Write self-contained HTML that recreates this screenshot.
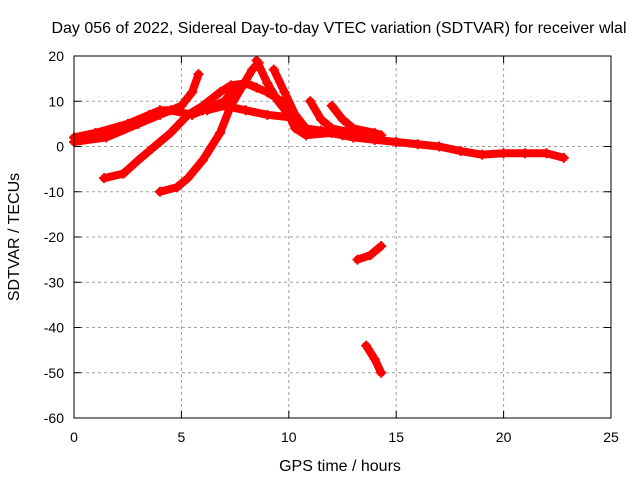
<!DOCTYPE html>
<html><head><meta charset="utf-8"><style>
body{margin:0;background:#fff}
svg{display:block;font-family:"Liberation Sans",sans-serif;font-size:14px}
.big{font-size:16px}
</style></head><body>
<svg id="chart" width="640" height="480">
<rect width="640" height="480" fill="#fff"/>
<text class="big" x="339" y="33" text-anchor="middle">Day 056 of 2022, Sidereal Day-to-day VTEC variation (SDTVAR) for receiver wlal</text>
<text class="big" x="340" y="471" text-anchor="middle">GPS time / hours</text>
<text class="big" transform="translate(19,237) rotate(-90)" text-anchor="middle">SDTVAR / TECUs</text>
<g id="grid"></g>
<g id="series"></g>
<rect x="74" y="56" width="537" height="362" fill="none" stroke="#000" stroke-width="1"/>
</svg>
<script>
const xTicks=[0,5,10,15,20,25];
const yTicks=[20,10,0,-10,-20,-30,-40,-50,-60];
const s1=[[0,2],[1,3],[2.5,5],[3.5,7],[4,8],[4.5,8],[5.5,7],[6,8],[7,10],[7.5,13],[8,14],[9,12],[10,9],[10.5,5],[11,3],[12,3],[13,2],[14,1.5]];
const s2=[[0,1],[1.5,2],[3,5],[4,7],[5,9],[5.5,12],[5.8,16]];
const s3=[[1.4,-7],[2.3,-6],[3,-3],[4,1],[4.5,3],[5.3,7],[6,9],[6.8,12],[7.3,13.5],[8,14],[8.5,13]];
const s4=[[4,-10],[4.8,-9],[5.3,-7],[6,-3],[6.8,3],[7.3,9],[7.8,13],[8.3,17],[8.6,18.5]];
const s5=[[6.2,8],[7,9],[8,8],[9,7],[10,6.5],[10.5,5]];
const s6=[[8.5,19],[9,14],[9.5,10],[10,7],[10.3,4],[10.8,2.5],[12,3],[13,2.5],[14,2]];
const s7=[[9.3,17],[9.8,12],[10.3,7],[10.8,4],[11.5,3.5],[12.5,2.5],[13.5,2]];
const s8=[[11,10],[11.5,6],[12,4],[13,3]];
const s9=[[12,9],[12.5,6],[13,4],[14,3],[14.3,2.5]];
const s10=[[14,1.5],[15,1],[16,0.5],[17,0],[18,-1],[19,-1.8],[20,-1.5],[21,-1.5],[22,-1.5],[22.8,-2.5]];
const s11=[[13.2,-25],[13.8,-24],[14.3,-22]];
const s12=[[13.6,-44],[14,-47],[14.3,-50]];
const allSeries=[s1,s2,s3,s4,s5,s6,s7,s8,s9,s10,s11,s12];
const NS="http://www.w3.org/2000/svg";
const X0=74,X1=611,Y0=418,Y1=56;
function xs(t){return X0+(t-0)/(25-0)*(X1-X0);}
function ys(v){return Y0-(v+60)/(80)*(Y0-Y1);}
const grid=document.getElementById('grid');
function mk(tag,attrs,parent){const e=document.createElementNS(NS,tag);for(const k in attrs)e.setAttribute(k,attrs[k]);parent.appendChild(e);return e;}
xTicks.forEach(t=>{const x=xs(t);
 if(t>0&&t<25){const l=mk('line',{x1:x,x2:x,y1:Y1,y2:Y0,stroke:'#a0a0a0','stroke-dasharray':'3,3'},grid);
 
 }
 mk('line',{x1:x,x2:x,y1:Y0,y2:Y0-7,stroke:'#000'},grid);
 mk('line',{x1:x,x2:x,y1:Y1,y2:Y1+7,stroke:'#000'},grid);
 const tx=mk('text',{x:x,y:Y0+24,'text-anchor':'middle'},grid);tx.textContent=t;
 
 
});
yTicks.forEach(v=>{const y=ys(v);
 if(v>-60&&v<20){const l=mk('line',{x1:X0,x2:X1,y1:y,y2:y,stroke:'#a0a0a0','stroke-dasharray':'3,3'},grid);
 
 }
 mk('line',{x1:X0,x2:X0+7,y1:y,y2:y,stroke:'#000'},grid);
 mk('line',{x1:X1,x2:X1-7,y1:y,y2:y,stroke:'#000'},grid);
 const tx=mk('text',{x:X0-10,y:y+5,'text-anchor':'end'},grid);tx.textContent=v;
 
 
});
const sg=document.getElementById('series');
allSeries.forEach((s,i)=>{
 const p=mk('polyline',{points:s.map(d=>xs(d[0])+','+ys(d[1])).join(' '),fill:'none',stroke:'#ff0000','stroke-width':8,'stroke-linecap':'round','stroke-linejoin':'round'},sg);
 
 
 s.forEach(d=>{const x=xs(d[0]),y=ys(d[1]);
  mk('path',{d:`M${x-5},${y}H${x+5}M${x},${y-5}V${y+5}`,stroke:'#ff0000','stroke-width':2},sg);});
});
</script>
</body></html>
